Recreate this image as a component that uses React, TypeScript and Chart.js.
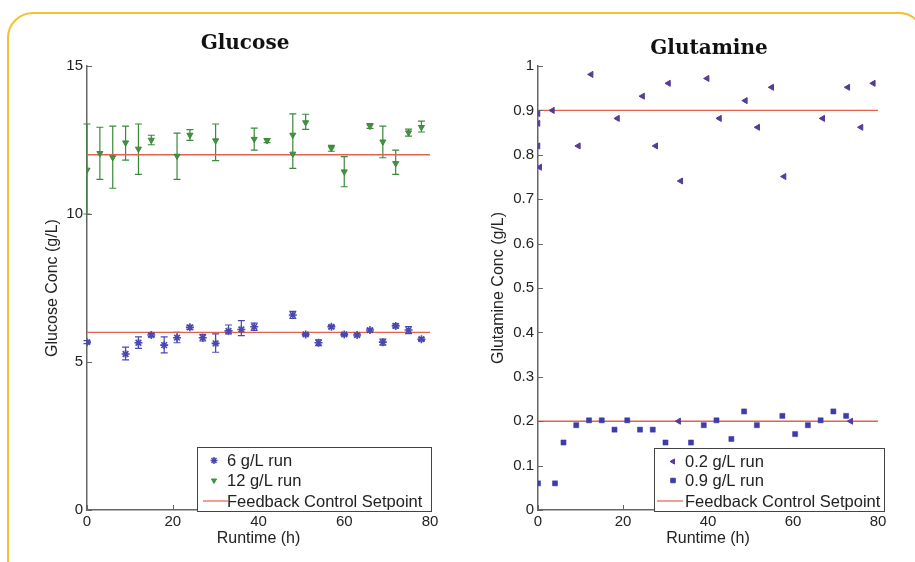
import React, { useEffect, useRef } from "react";
import { Chart, registerables } from "chart.js";
import { drawPoint } from "chart.js/helpers";

Chart.register(...registerables);

// ---------- axis ticks ----------
const runtimeTicks = [0, 20, 40, 60, 80];
const glucoseTicks = [0, 5, 10, 15];
const glutamineTicks = [0, 0.1, 0.2, 0.3, 0.4, 0.5, 0.6, 0.7, 0.8, 0.9, 1];
const setpointRange = [0, 80];

// ---------- Glucose: 6 g/L run ----------
const glc6Time = [0, 9, 12, 15, 18, 21, 24, 27, 30, 33, 36, 39, 48, 51, 54, 57, 60, 63, 66, 69, 72, 75, 78];
const glc6Conc = [5.67, 5.27, 5.65, 5.91, 5.57, 5.82, 6.17, 5.82, 5.63, 6.05, 6.1, 6.19, 6.59, 5.93, 5.65, 6.19, 5.93, 5.91, 6.08, 5.67, 6.22, 6.08, 5.77];
const glc6Low = [5.62, 5.07, 5.46, 5.86, 5.31, 5.65, 6.1, 5.71, 5.33, 5.95, 5.89, 6.07, 6.47, 5.89, 5.55, 6.14, 5.89, 5.87, 6.03, 5.57, 6.15, 5.96, 5.72];
const glc6High = [5.72, 5.5, 5.85, 5.96, 5.85, 6.0, 6.24, 5.93, 5.95, 6.25, 6.4, 6.31, 6.71, 5.97, 5.75, 6.24, 5.97, 5.95, 6.13, 5.77, 6.29, 6.2, 5.82];

// ---------- Glucose: 12 g/L run ----------
const glc12Time = [0, 3, 6, 9, 12, 15, 21, 24, 30, 39, 42, 48, 48, 51, 57, 60, 66, 69, 72, 75, 78];
const glc12Conc = [11.49, 12.05, 11.91, 12.41, 12.2, 12.5, 11.96, 12.67, 12.48, 12.53, 12.48, 12.03, 12.67, 13.09, 12.22, 11.43, 12.97, 12.44, 11.71, 12.75, 12.93];
const glc12Low = [10.0, 11.17, 10.87, 11.82, 11.34, 12.34, 11.17, 12.49, 11.8, 12.16, 12.41, 11.54, 12.67, 12.86, 12.12, 10.92, 12.89, 11.9, 11.34, 12.63, 12.77];
const glc12High = [13.04, 12.93, 12.97, 12.97, 13.04, 12.66, 12.73, 12.85, 13.04, 12.9, 12.55, 13.38, 12.67, 13.37, 12.32, 11.94, 13.05, 12.97, 12.16, 12.87, 13.14];
const glucoseSetpoints = [6, 12];

// ---------- Glutamine: triangle series ("0.2 g/L run") ----------
const glnTriTime = [0, 0, 0, 0.4, 3.4, 9.5, 12.5, 18.7, 24.6, 27.7, 30.7, 33.6, 39.8, 42.7, 48.8, 51.7, 55, 57.9, 67, 72.9, 76, 78.9, 33.1, 73.6];
const glnTriConc = [0.893, 0.871, 0.82, 0.772, 0.9, 0.82, 0.981, 0.882, 0.932, 0.82, 0.961, 0.741, 0.972, 0.882, 0.922, 0.862, 0.952, 0.751, 0.882, 0.952, 0.862, 0.961, 0.2, 0.2];

// ---------- Glutamine: square series ("0.9 g/L run") ----------
const glnSqTime = [0, 4, 6, 9, 12, 15, 18, 21, 24, 27, 30, 36, 39, 42, 45.5, 48.5, 51.5, 57.5, 60.5, 63.5, 66.5, 69.5, 72.5];
const glnSqConc = [0.06, 0.06, 0.152, 0.191, 0.202, 0.202, 0.181, 0.202, 0.181, 0.181, 0.152, 0.152, 0.191, 0.202, 0.16, 0.222, 0.191, 0.212, 0.171, 0.191, 0.202, 0.222, 0.212];
const glutamineSetpoints = [0.2, 0.9];

// ---------- styles ----------
const SANS = "'Liberation Sans', Arial, sans-serif";
const SERIF = "'DejaVu Serif', 'Liberation Serif', serif";
const TEXT = "#222";
const AXIS = "#666";
const BLUE = "#4848b0";
const GREEN = "#449244";
const GREEN_BAR = "#3a8a3a";
const RED = "#e4604f";
const PURPLE = "#563b96";
const SQBLUE = "#3d3daa";

const pts = (xs: number[], ys: number[]) => xs.map((x, i) => ({ x, y: ys[i] }));

const errorBarPlugin = {
  id: "errbars",
  beforeDatasetsDraw(chart: any) {
    const { ctx, scales } = chart;
    const xs = scales.x;
    const ys = scales.y;
    chart.data.datasets.forEach((ds: any) => {
      if (!ds.errLo) return;
      ctx.save();
      ctx.strokeStyle = ds.errColor;
      ctx.lineWidth = 1.2;
      ds.data.forEach((p: any, j: number) => {
        const lo = ds.errLo[j];
        const hi = ds.errHi[j];
        if (lo === hi) return;
        const px = xs.getPixelForValue(p.x);
        const y1 = ys.getPixelForValue(lo);
        const y2 = ys.getPixelForValue(hi);
        const cap = 3.5;
        ctx.beginPath();
        ctx.moveTo(px, y1);
        ctx.lineTo(px, y2);
        ctx.moveTo(px - cap, y1);
        ctx.lineTo(px + cap, y1);
        ctx.moveTo(px - cap, y2);
        ctx.lineTo(px + cap, y2);
        ctx.stroke();
      });
      ctx.restore();
    });
  },
};

type LegendItem = {
  label: string;
  kind: "point" | "line";
  pointStyle?: string;
  rotation?: number;
  radius?: number;
  color: string;
  borderWidth?: number;
};

type DecorCfg = {
  title: string;
  titleX: number;
  titleY: number;
  legend: LegendItem[];
  legendRightOffset: number;
  legendWidth: number;
  legendHeight: number;
  markerOffset: number;
  textOffset: number;
  lineFrom: number;
  lineTo: number;
  rowOffsets: number[];
};

const makeDecor = (cfg: DecorCfg) => ({
  id: "decor",
  afterDraw(chart: any) {
    const { ctx, chartArea, scales } = chart;
    ctx.save();
    // inward ticks
    ctx.strokeStyle = AXIS;
    ctx.lineWidth = 1;
    scales.y.ticks.forEach((t: any) => {
      const py = Math.round(scales.y.getPixelForValue(t.value)) + 0.5;
      ctx.beginPath();
      ctx.moveTo(chartArea.left, py);
      ctx.lineTo(chartArea.left + 5, py);
      ctx.stroke();
    });
    scales.x.ticks.forEach((t: any) => {
      const px = Math.round(scales.x.getPixelForValue(t.value)) + 0.5;
      ctx.beginPath();
      ctx.moveTo(px, chartArea.bottom);
      ctx.lineTo(px, chartArea.bottom - 5);
      ctx.stroke();
    });
    // title
    ctx.fillStyle = "#111";
    ctx.font = `bold 20px ${SERIF}`;
    ctx.textAlign = "center";
    ctx.textBaseline = "middle";
    ctx.fillText(cfg.title, cfg.titleX, cfg.titleY);
    // legend box
    const right = chartArea.right + cfg.legendRightOffset;
    const bottom = chartArea.bottom + 1;
    const left = right - cfg.legendWidth;
    const top = bottom - cfg.legendHeight;
    ctx.fillStyle = "#fff";
    ctx.fillRect(left, top, cfg.legendWidth, cfg.legendHeight);
    ctx.strokeStyle = "#444";
    ctx.lineWidth = 1;
    ctx.strokeRect(Math.round(left) + 0.5, Math.round(top) + 0.5, Math.round(cfg.legendWidth), Math.round(cfg.legendHeight));
    ctx.font = `16.5px ${SANS}`;
    ctx.textAlign = "left";
    ctx.textBaseline = "middle";
    cfg.legend.forEach((item, i) => {
      const yy = top + cfg.rowOffsets[i];
      if (item.kind === "line") {
        ctx.strokeStyle = item.color;
        ctx.lineWidth = 1.2;
        ctx.beginPath();
        ctx.moveTo(left + cfg.lineFrom, yy);
        ctx.lineTo(left + cfg.lineTo, yy);
        ctx.stroke();
      } else {
        ctx.fillStyle = item.color;
        ctx.strokeStyle = item.color;
        ctx.lineWidth = item.borderWidth ?? 1;
        drawPoint(ctx, {
          pointStyle: item.pointStyle as any,
          rotation: item.rotation ?? 0,
          radius: item.radius ?? 3,
          borderWidth: item.borderWidth ?? 1,
        } as any, left + cfg.markerOffset, yy);
      }
      ctx.fillStyle = TEXT;
      ctx.fillText(item.label, left + cfg.textOffset, yy + 1);
    });
    ctx.restore();
  },
});

const tickFont = { family: SANS, size: 15 };
const titleFont = { family: SANS, size: 16 };

function makeScales(yTicks: number[], yMax: number, yTitle: string, yWidth: number) {
  return {
    x: {
      type: "linear",
      min: 0,
      max: 80,
      afterBuildTicks: (s: any) => {
        s.ticks = runtimeTicks.map((v) => ({ value: v }));
      },
      afterFit: (s: any) => {
        s.height = 40;
        s.paddingLeft = 0;
        s.paddingRight = 0;
      },
      grid: { display: false, drawTicks: false },
      border: { display: true, color: AXIS, width: 1.5 },
      ticks: { padding: 3, font: tickFont, color: TEXT, maxRotation: 0 },
      title: { display: true, text: "Runtime (h)", font: titleFont, color: TEXT, padding: { top: 4, bottom: 2 } },
    },
    y: {
      type: "linear",
      min: 0,
      max: yMax,
      afterBuildTicks: (s: any) => {
        s.ticks = yTicks.map((v) => ({ value: v }));
      },
      afterFit: (s: any) => {
        s.width = yWidth;
        s.paddingTop = 0;
        s.paddingBottom = 0;
      },
      grid: { display: false, drawTicks: false },
      border: { display: true, color: AXIS, width: 1.5 },
      ticks: {
        padding: 4,
        font: tickFont,
        color: TEXT,
        callback: (v: any) => String(Math.round(Number(v) * 10) / 10),
      },
      title: { display: true, text: yTitle, font: titleFont, color: TEXT, padding: { top: 5, bottom: 4 } },
    },
  };
}

function setpointDatasets(levels: number[]) {
  return levels.map((lv) => ({
    type: "line",
    label: "Feedback Control Setpoint",
    data: setpointRange.map((x) => ({ x, y: lv })),
    borderColor: RED,
    borderWidth: 1.4,
    pointRadius: 0,
    fill: false,
    order: 5,
  }));
}

function glucoseConfig(): any {
  return {
    type: "scatter",
    data: {
      datasets: [
        ...setpointDatasets(glucoseSetpoints),
        {
          label: "6 g/L run",
          data: pts(glc6Time, glc6Conc),
          errLo: glc6Low,
          errHi: glc6High,
          errColor: BLUE,
          pointStyle: "star",
          pointRadius: 4,
          borderColor: BLUE,
          backgroundColor: BLUE,
          pointBorderWidth: 1.6,
          order: 1,
        },
        {
          label: "12 g/L run",
          data: pts(glc12Time, glc12Conc),
          errLo: glc12Low,
          errHi: glc12High,
          errColor: GREEN_BAR,
          pointStyle: "triangle",
          pointRotation: 180,
          pointRadius: 3.5,
          borderColor: GREEN_BAR,
          backgroundColor: GREEN,
          pointBorderWidth: 1,
          order: 1,
        },
      ],
    },
    options: {
      animation: false,
      responsive: false,
      devicePixelRatio: 1,
      layout: { padding: { top: 66, right: 30, bottom: 12, left: 38 } },
      plugins: { legend: { display: false }, tooltip: { enabled: false }, title: { display: false } },
      scales: makeScales(glucoseTicks, 15, "Glucose Conc (g/L)", 49),
    },
    plugins: [
      errorBarPlugin,
      makeDecor({
        title: "Glucose",
        titleX: 245,
        titleY: 44,
        legend: [
          { label: "6 g/L run", kind: "point", pointStyle: "star", radius: 3.5, color: BLUE, borderWidth: 1.5 },
          { label: "12 g/L run", kind: "point", pointStyle: "triangle", rotation: 180, radius: 3, color: GREEN },
          { label: "Feedback Control Setpoint", kind: "line", color: RED },
        ],
        legendRightOffset: 1,
        legendWidth: 234,
        legendHeight: 64,
        markerOffset: 17,
        textOffset: 30,
        lineFrom: 6,
        lineTo: 31,
        rowOffsets: [13.5, 33.5, 54],
      }),
    ],
  };
}

function glutamineConfig(): any {
  return {
    type: "scatter",
    data: {
      datasets: [
        ...setpointDatasets(glutamineSetpoints),
        {
          label: "0.2 g/L run",
          data: pts(glnTriTime, glnTriConc),
          pointStyle: "triangle",
          pointRotation: 270,
          pointRadius: 3.5,
          borderColor: PURPLE,
          backgroundColor: PURPLE,
          pointBorderWidth: 1,
          order: 1,
        },
        {
          label: "0.9 g/L run",
          data: pts(glnSqTime, glnSqConc),
          pointStyle: "rect",
          pointRadius: 3.6,
          borderColor: SQBLUE,
          backgroundColor: SQBLUE,
          pointBorderWidth: 0.5,
          order: 1,
        },
      ],
    },
    options: {
      animation: false,
      responsive: false,
      devicePixelRatio: 1,
      layout: { padding: { top: 66, right: 37, bottom: 12, left: 24 } },
      plugins: { legend: { display: false }, tooltip: { enabled: false }, title: { display: false } },
      scales: makeScales(glutamineTicks, 1, "Glutamine Conc (g/L)", 54),
    },
    plugins: [
      makeDecor({
        title: "Glutamine",
        titleX: 249,
        titleY: 49,
        legend: [
          { label: "0.2 g/L run", kind: "point", pointStyle: "triangle", rotation: 270, radius: 3, color: PURPLE },
          { label: "0.9 g/L run", kind: "point", pointStyle: "rect", radius: 3.2, color: SQBLUE },
          { label: "Feedback Control Setpoint", kind: "line", color: RED },
        ],
        legendRightOffset: 6,
        legendWidth: 230,
        legendHeight: 63,
        markerOffset: 19,
        textOffset: 31,
        lineFrom: 3,
        lineTo: 29,
        rowOffsets: [13.5, 32.5, 53],
      }),
    ],
  };
}

function ChartCanvas({ config, left, width }: { config: () => any; left: number; width: number }) {
  const ref = useRef<HTMLCanvasElement | null>(null);
  useEffect(() => {
    if (!ref.current) return;
    const chart = new Chart(ref.current, config());
    return () => chart.destroy();
  }, [config]);
  return (
    <canvas
      ref={ref}
      width={width}
      height={562}
      style={{ position: "absolute", left, top: 0, width, height: 562 }}
    />
  );
}

export default function App() {
  return (
    <div
      style={{
        position: "absolute",
        left: 0,
        top: 0,
        width: 915,
        height: 562,
        background: "#fff",
        overflow: "hidden",
      }}
    >
      <div
        style={{
          position: "absolute",
          left: 7,
          top: 12,
          width: 918,
          height: 600,
          border: "2px solid #f1c232",
          borderRadius: 26,
          boxSizing: "border-box",
        }}
      />
      <ChartCanvas config={glucoseConfig} left={0} width={460} />
      <ChartCanvas config={glutamineConfig} left={460} width={455} />
    </div>
  );
}
